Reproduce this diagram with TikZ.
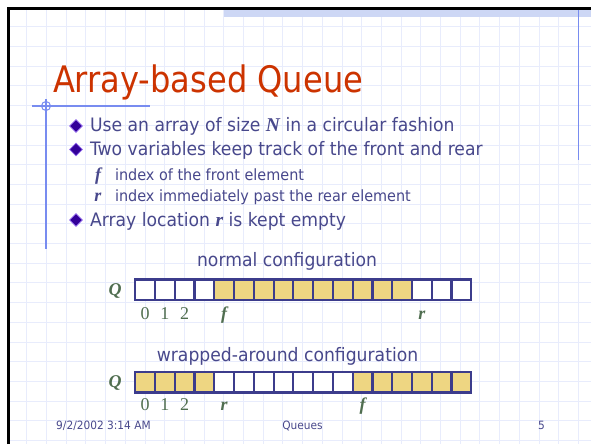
\documentclass[tikz,border=0pt]{standalone}
\usepackage{fontspec}
\setmainfont{Liberation Serif}
\newfontfamily\tah[FakeStretch=0.88]{DejaVu Sans}
\newfontfamily\tahb[FakeStretch=0.93]{DejaVu Sans}
\usetikzlibrary{shapes.geometric}
\definecolor{titlec}{RGB}{204,51,0}
\definecolor{bodyc}{RGB}{72,72,140}
\definecolor{labelc}{RGB}{80,110,80}
\definecolor{arrayc}{RGB}{60,60,140}
\definecolor{yellowc}{RGB}{238,214,130}
\definecolor{gridc}{RGB}{232,236,252}
\definecolor{accentc}{RGB}{120,140,240}
\definecolor{bandc}{RGB}{205,215,245}
\definecolor{bulletc}{RGB}{51,0,153}
\definecolor{bulletl}{RGB}{150,110,240}
\begin{document}
\begin{tikzpicture}[x=1pt,y=-1pt,
  txt/.style={anchor=base west,inner sep=0pt,outer sep=0pt},
  body/.style={txt,text=bodyc,font=\tahb\fontsize{18.5}{21}\selectfont},
  sub/.style={txt,text=bodyc,font=\tahb\fontsize{15.5}{18}\selectfont},
  ital/.style={inner sep=0pt,text=bodyc,font=\fontsize{18}{20}\selectfont\bfseries\itshape},
  lab/.style={anchor=base,inner sep=0pt,text=labelc,font=\fontsize{18}{20}\selectfont},
  labi/.style={anchor=base,inner sep=0pt,text=labelc,font=\fontsize{18}{20}\selectfont\bfseries\itshape},
  cell/.style={draw=arrayc,line width=2.2pt,minimum width=19.76pt,minimum height=20.5pt,inner sep=0pt,outer sep=0pt},
  full/.style={cell,fill=yellowc},
  empty/.style={cell,fill=white},
  foot/.style={anchor=base,inner sep=0pt,text=bodyc,font=\tahb\fontsize{11.4}{13}\selectfont},
  bul/.style={diamond,fill=bulletc,draw=bulletl,line width=0.6pt,inner sep=0pt,minimum width=13pt,minimum height=13pt}
]
\useasboundingbox (0,0) rectangle (591,444);
\fill[white] (0,0) rectangle (591,444);
% grid
\begin{scope}
\clip (9,9) rectangle (591,444);
\foreach \i in {0,...,29} {\draw[gridc,line width=0.8pt] (26.7+19.7*\i,9) -- (26.7+19.7*\i,444);}
\foreach \j in {0,...,21} {\draw[gridc,line width=0.8pt] (9,26.7+19.7*\j) -- (591,26.7+19.7*\j);}
\end{scope}
% top band and frame
\fill[bandc] (224,9.5) rectangle (591,17.3);
\draw[black,line width=2.6pt] (8.5,444) -- (8.5,8.5) -- (591,8.5);
\draw[accentc,line width=1pt] (578,10) -- (578,160);
% title decoration
\draw[accentc,line width=1.2pt] (32,106) -- (150,106);
\draw[accentc,line width=1.2pt] (46,99) -- (46,249);
\draw[accentc,line width=1pt] (46,106) circle (4.5);
% title
\node[txt,text=titlec,font=\tah\fontsize{36.5}{40}\selectfont] (title) at (53,92) {Array-based Queue};
% bullets
\node[bul] (b1) at (76,126) {};
\node[body] (t1) at (90,131.7) {Use an array of size {\fontspec{Liberation Serif}\fontsize{19.5}{21}\selectfont\bfseries\itshape N} in a circular fashion};
\node[bul] (b2) at (76,149.5) {};
\node[body] (t2) at (90,155.2) {Two variables keep track of the front and rear};
\node[ital,anchor=base] (sf) at (98,180) {f};
\node[sub] (t3) at (115,180) {index of the front element};
\node[ital,anchor=base] (sr) at (98,201.7) {r};
\node[sub] (t4) at (115,201.7) {index immediately past the rear element};
\node[bul] (b3) at (76,220) {};
\node[body] (t5) at (90,226) {Array location {\fontspec{Liberation Serif}\fontsize{19.5}{21}\selectfont\bfseries\itshape r} is kept empty};
% normal configuration
\node[body,anchor=base] (c1) at (287,266.7) {normal configuration};
\node[labi] (q1) at (115,295.5) {Q};
\foreach \k in {0,...,16} {
  \pgfmathtruncatemacro{\isfull}{(\k>3)&&(\k<14)}
  \ifnum\isfull=1
    \node[full] (na\k) at (135.3+19.76*\k+9.88,289.7) {};
  \else
    \node[empty] (na\k) at (135.3+19.76*\k+9.88,289.7) {};
  \fi
}
\node[lab] (n0) at (na0.center |- 0,319.5) {0};
\node[lab] (n1) at (na1.center |- 0,319.5) {1};
\node[lab] (n2) at (na2.center |- 0,319.5) {2};
\node[labi] (nf) at (na4.center |- 0,319.5) {f};
\node[labi] (nr) at (na14.center |- 0,319.5) {r};
% wrapped configuration
\node[body,anchor=base] (c2) at (287.5,361.7) {wrapped-around configuration};
\node[labi] (q2) at (115,387.5) {Q};
\foreach \k in {0,...,16} {
  \pgfmathtruncatemacro{\isempty}{(\k>3)&&(\k<11)}
  \ifnum\isempty=1
    \node[empty] (wa\k) at (135.3+19.76*\k+9.88,382.2) {};
  \else
    \node[full] (wa\k) at (135.3+19.76*\k+9.88,382.2) {};
  \fi
}
\node[lab] (w0) at (wa0.center |- 0,410) {0};
\node[lab] (w1) at (wa1.center |- 0,410) {1};
\node[lab] (w2) at (wa2.center |- 0,410) {2};
\node[labi] (wr) at (wa4.center |- 0,410) {r};
\node[labi] (wf) at (wa11.center |- 0,410) {f};
% footer
\node[foot,anchor=base west] (d) at (56,429) {9/2/2002 3:14 AM};
\node[foot] (qq) at (302.5,429) {Queues};
\node[foot] (pg) at (541.5,429) {5};
\end{tikzpicture}
\end{document}
